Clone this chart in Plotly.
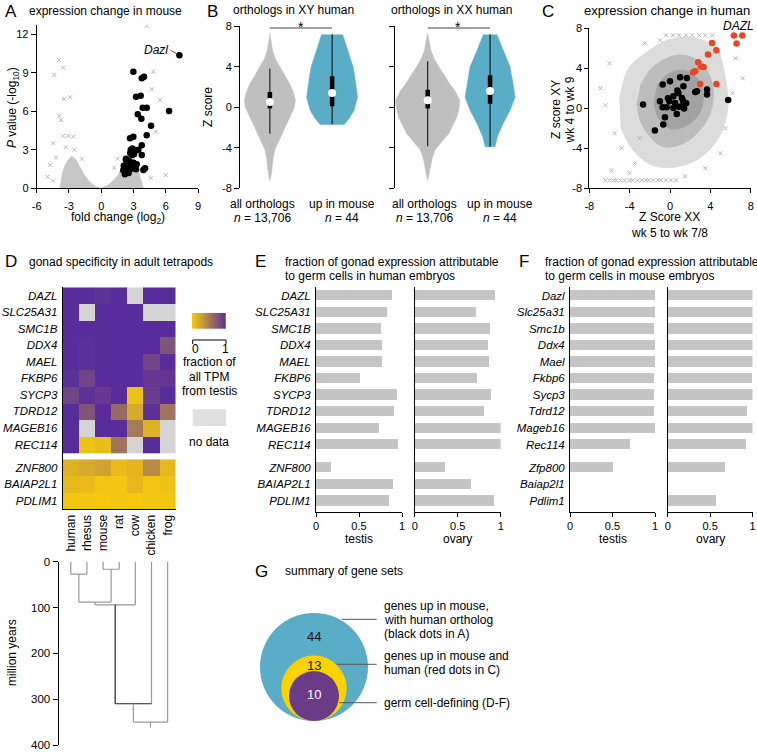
import plotly.graph_objects as go

W, H = 757, 752
FONT = "Liberation Sans, Arial, sans-serif"

def PX(p): return p / W
def PY(p): return 1 - p / H
def DX(a, b): return [a / W, b / W]
def DY(top, bot): return [1 - bot / H, 1 - top / H]

BLUE = "rgb(90,173,199)"
VGRAY = "rgb(191,191,191)"
YELLOW = "rgb(246,201,14)"
PURPLE = "rgb(88,45,155)"
PURPLE_G = "rgb(106,60,136)"
YELLOW_G = "rgb(250,210,0)"
RED = "rgb(236,68,36)"
BAR = "rgb(197,197,197)"
NODATA = "rgb(212,212,212)"

# ---------------- Panel A data ----------------
a_black_fc = [7.27, 2.99, 3.77, 3.98, 3.24, 3.67, 3.86, 4.23, 6.31, 3.40, 3.73, 4.63, 2.99, 2.68, 4.23, 3.77,
              2.75, 2.95, 2.70, 3.05, 3.15, 2.85, 3.77, 2.30, 2.45, 2.60, 2.10, 2.35, 2.65, 2.05, 2.40, 2.70,
              2.20, 2.55, 3.30, 4.07, 3.92, 3.24, 2.30, 2.90, 3.00, 2.55, 2.85, 3.45]
a_black_p = [10.37, 9.09, 8.57, 8.70, 7.14, 7.22, 6.28, 6.28, 6.02, 5.77, 5.42, 4.88, 4.02, 3.90, 4.13, 3.35,
             3.00, 3.05, 2.75, 2.65, 2.90, 2.60, 2.60, 2.20, 1.90, 2.10, 1.75, 1.55, 1.80, 1.40, 1.25, 1.50,
             1.10, 1.65, 1.87, 1.56, 1.43, 1.48, 2.30, 3.10, 2.00, 1.20, 1.55, 3.00]
a_gray_fc = [-3.93, -3.53, -4.36, -3.46, -2.90, -3.90, -3.74, -3.53, -3.06, -2.60, -4.76, -4.46, 4.23, 4.85,
             4.70, 5.47, 5.07, 6.00, -3.30, -2.50, -4.20, -1.80, 1.50, 1.20, 4.30, 4.60, -4.50, -5.00]
a_gray_p = [10.0, 9.4, 8.83, 6.96, 7.09, 5.64, 5.32, 4.08, 4.08, 4.02, 1.82, 3.51, 12.65, 9.09,
            7.72, 6.88, 4.39, 1.04, 3.2, 3.0, 2.4, 2.3, 2.3, 1.6, 1.6, 0.8, 0.6, 0.9]
a_cloudL_fc = [-3.83, -3.74, -3.58, -3.37, -3.06, -2.74, -2.34, -1.97, -1.50, -1.04, -0.58, -0.11]
a_cloudL_p = [0, 0.5, 1.2, 1.75, 2.2, 2.5, 2.2, 1.6, 0.93, 0.47, 0.16, 0]
a_cloudR_fc = [-0.11, 0.51, 1.13, 1.59, 1.90, 2.21, 2.52, 2.99, 3.30, 3.54, 3.77, 3.92]
a_cloudR_p = [0, 0.16, 0.59, 1.04, 1.56, 2.07, 2.46, 2.34, 1.82, 1.04, 0.39, 0]
a_xticks = [-6, -3, 0, 3, 6, 9]
a_yticks = [0, 3, 6, 9, 12]

# ---------------- Panel B data (violin outlines: z, half-width) ----------------
vxy_gray_z = [7.3, 6.6, 5.6, 4.8, 4.0, 3.2, 2.3, 1.5, 0.7, 0.0, -1.0, -1.8, -2.6, -3.4, -4.2, -5.0, -5.9, -6.6, -7.2]
vxy_gray_w = [0, 0.02, 0.043, 0.088, 0.16, 0.24, 0.32, 0.377, 0.41, 0.393, 0.32, 0.257, 0.2, 0.136, 0.08, 0.053, 0.037, 0.024, 0]
vxy_blue_z = [7.2, 6.45, 5.6, 4.8, 4.0, 3.2, 2.3, 1.0, -0.3, -1.1, -1.7]
vxy_blue_w = [0.169, 0.209, 0.257, 0.297, 0.337, 0.361, 0.385, 0.409, 0.353, 0.273, 0.193]
vxx_gray_z = [7.3, 6.6, 5.6, 4.8, 4.0, 3.2, 2.3, 1.5, 0.7, 0.0, -1.0, -1.8, -2.6, -3.4, -4.2, -5.0, -5.9, -6.6, -7.2]
vxx_gray_w = [0, 0.024, 0.053, 0.104, 0.177, 0.265, 0.353, 0.449, 0.514, 0.506, 0.465, 0.401, 0.337, 0.225, 0.12, 0.072, 0.04, 0.024, 0]
vxx_blue_z = [7.2, 5.6, 4.0, 2.3, 1.0, -0.3, -1.6, -2.9, -3.9]
vxx_blue_w = [0.108, 0.209, 0.321, 0.369, 0.401, 0.321, 0.209, 0.117, 0.08]
# box stats: q1, q3, median, whisker low, whisker high
box_xy_gray = [-0.13, 1.51, 0.53, -2.6, 3.82]
box_xy_blue = [0.10, 3.06, 1.41, -1.68, 7.2]
box_xx_gray = [-0.13, 1.74, 0.69, -3.85, 4.54]
box_xx_blue = [0.36, 3.16, 1.61, -3.9, 7.2]
b_yticks = [-8, -4, 0, 4, 8]
sig_level = 7.83

# ---------------- Panel C data ----------------
c_black_x = [5.77, 3.67, 3.67, 2.5, 2.67, 1.0, 1.67, 0.0, -0.73, 1.33, 0.73, 0.83, 0.33, 1.17, 1.33, -1.0, -0.07,
             -2.67, 0.5, 1.33, -0.73, -0.33, 1.4, 0.33, 0.67, -0.5, -0.67, -1.5, 0.9, 1.6, -0.2]
c_black_y = [0.83, 1.87, 1.37, 1.63, 1.7, 3.1, 3.03, 2.7, 2.37, 2.2, 1.77, 1.53, 1.2, 1.03, 0.7, 0.7, 0.7,
             0.37, 0.53, 0.37, 0.1, 0.1, -0.03, 0.03, -0.57, -0.9, -1.63, -2.23, 0.15, 0.5, 1.0]
c_red_x = [6.33, 7.17, 6.6, 4.17, 4.6, 3.77, 2.8, 3.07, 3.33, 2.5, 3.0, 4.6, 2.3]
c_red_y = [7.27, 7.27, 6.47, 6.53, 5.8, 5.37, 4.6, 4.17, 4.13, 3.7, 2.43, 2.43, 3.6]
c_inner_x = [-1.3, -0.2, 1.3, 2.7, 3.3, 2.8, 1.5, 0.0, -1.1, -1.6]
c_inner_y = [2.2, 3.4, 3.8, 3.0, 1.2, -0.7, -1.8, -2.0, -1.0, 0.6]
c_core_x = [-2.96, -1.97, -0.65, 1.0, 2.66, 3.81, 4.3, 3.97, 2.98, 1.33, -0.65, -1.97, -2.96, -3.29]
c_core_y = [2.16, 3.83, 4.83, 5.33, 4.83, 3.5, 1.5, -0.5, -2.17, -3.5, -3.84, -2.84, -1.17, 0.5]
c_halo_x = [-5.0, -4.1, -2.3, 0.01, 2.66, 4.6, 5.4, 5.7, 4.8, 2.9, 0.34, -1.97, -3.8, -4.9]
c_halo_y = [0.83, 4.0, 5.6, 6.9, 7.0, 5.9, 3.5, -0.17, -3.0, -5.0, -5.9, -5.6, -4.0, -1.8]
c_out_x = [-6.4, -5.5, -4.8, -3.5, 5.0, 6.2, -6.0, -2.5, 6.5, -5.8, 3.5, -6.9, -4.0, 5.5, -1.0, 7.2, 1.5, -3.0]
c_out_y = [0.3, -2.5, -4.0, -5.5, -4.5, 1.5, 4.5, 6.5, 5.0, -6.2, -6.0, 2.0, -6.5, -2.0, 6.8, 3.0, -6.8, -3.0]
c_floor_x = [-6.4, -6.0, -5.6, -5.3, -4.9, -4.5, -4.0, -3.7, -3.2, -2.8, -2.4, -2.1, -1.7, -1.2, -0.9, -0.4, 0.1, 0.6]
c_floor_value = -7.2
c_ceil_x = [-0.4, 0.3, 0.9, 1.6, 2.2, 2.9, 3.5, 4.2]
c_ceil_value = 7.3
c_ticks = [-8, -4, 0, 4, 8]

# ---------------- Panel D data ----------------
species = ["human", "rhesus", "mouse", "rat", "cow", "chicken", "frog"]
genes_h = ["DAZL", "SLC25A31", "SMC1B", "DDX4", "MAEL", "FKBP6", "SYCP3", "TDRD12", "MAGEB16", "REC114",
           "ZNF800", "BAIAP2L1", "PDLIM1"]
N = None
testis_frac_germ = [
    [1.00, 1.00, 0.97, 1.00, N, 1.00, 1.00],
    [1.00, N, 1.00, 1.00, 1.00, N, N],
    [1.00, 1.00, 1.00, 1.00, 1.00, 1.00, 1.00],
    [1.00, 0.98, 1.00, 1.00, 1.00, 1.00, 0.75],
    [1.00, 0.98, 1.00, 1.00, 1.00, 0.85, 1.00],
    [0.98, 0.85, 1.00, 1.00, 1.00, 0.92, 0.95],
    [0.85, 0.97, 0.92, 1.00, 0.05, 0.90, 1.00],
    [1.00, 0.75, 1.00, 0.60, 0.20, 0.98, 0.55],
    [1.00, N, 1.00, 1.00, 0.50, 0.15, N],
    [1.00, 0.05, 0.08, 0.55, N, 1.00, N],
]
testis_frac_other = [
    [0.15, 0.20, 0.25, 0.08, 0.12, 0.40, 0.10],
    [0.10, 0.08, 0.02, 0.02, 0.10, 0.02, 0.05],
    [0.02, 0.02, 0.00, 0.02, 0.00, 0.02, 0.02],
]
row_pos = [0, 1, 2, 3, 4, 5, 6, 7, 8, 9, 10.4, 11.4, 12.4]
legend_ramp = [[0, 1]]
# dendrogram merges: (child a, child b, million years); leaves 0..6
tree_merges = [(0, 1, 27), (2, 3, 16.5), (7, 8, 88), (9, 4, 94), (10, 5, 310), (11, 6, 350)]
tree_root = 362
myr_ticks = [0, 100, 200, 300, 400]

# ---------------- Panel E / F data ----------------
genes_m = ["Dazl", "Slc25a31", "Smc1b", "Ddx4", "Mael", "Fkbp6", "Sycp3", "Tdrd12", "Mageb16", "Rec114",
           "Zfp800", "Baiap2l1", "Pdlim1"]
e_testis = [0.88, 0.83, 0.76, 0.77, 0.77, 0.51, 0.94, 0.91, 0.73, 0.95, 0.17, 0.89, 0.85]
e_ovary = [0.93, 0.71, 0.87, 0.85, 0.86, 0.72, 0.88, 0.80, 1.00, 1.00, 0.35, 0.65, 0.92]
f_testis = [1.00, 1.00, 0.99, 1.00, 1.00, 0.99, 0.99, 0.99, 1.00, 0.71, 0.51, None, None]
f_ovary = [1.00, 1.00, 1.00, 1.00, 1.00, 0.99, 1.00, 0.93, 1.00, 0.92, 0.67, None, 0.57]
bar_ticks = [0, 0.5, 1]
bar_ticktext = ["0", "0.5", "1"]

# ---------------- Panel G data ----------------
set_counts = [44, 13, 10]
set_labels = [["genes up in mouse,", "with human ortholog", "(black dots in A)"],
              ["genes up in mouse and", "human (red dots in C)"],
              ["germ cell-defining (D-F)"]]

# =====================================================================
fig = go.Figure()
HS = dict(hoverinfo="skip", showlegend=False)

# ---- A ----
for cx, cy in [(a_cloudL_fc, a_cloudL_p), (a_cloudR_fc, a_cloudR_p)]:
    fig.add_trace(go.Scatter(x=cx, y=cy, mode="lines", fill="toself", fillcolor="rgb(198,198,198)",
                             line=dict(color="rgb(198,198,198)", width=1), xaxis="x", yaxis="y", **HS))
fig.add_trace(go.Scatter(x=a_gray_fc, y=a_gray_p, mode="markers", xaxis="x", yaxis="y",
                         marker=dict(symbol="x-thin", size=4, line=dict(width=1, color="rgb(185,185,185)")), **HS))
fig.add_trace(go.Scatter(x=a_black_fc, y=a_black_p, mode="markers", xaxis="x", yaxis="y",
                         marker=dict(size=6.5, color="black"), **HS))

# ---- B ----
def violin(ax, ay, center, z, w, color):
    xs = [center + v for v in w] + [center - v for v in reversed(w)]
    ys = list(z) + list(reversed(z))
    fig.add_trace(go.Scatter(x=xs, y=ys, mode="lines", fill="toself", fillcolor=color,
                             line=dict(color=color, width=0.5), xaxis=ax, yaxis=ay, **HS))

def boxplot(ax, ay, center, st):
    q1, q3, med, lo, hi = st
    fig.add_trace(go.Scatter(x=[center, center], y=[lo, hi], mode="lines", line=dict(color="black", width=1),
                             xaxis=ax, yaxis=ay, **HS))
    fig.add_trace(go.Scatter(x=[center, center], y=[q1, q3], mode="lines", line=dict(color="black", width=4.5),
                             xaxis=ax, yaxis=ay, **HS))
    fig.add_trace(go.Scatter(x=[center], y=[med], mode="markers", marker=dict(color="white", size=8),
                             xaxis=ax, yaxis=ay, **HS))

violin("x2", "y2", 0, vxy_gray_z, vxy_gray_w, VGRAY)
violin("x2", "y2", 1, vxy_blue_z, vxy_blue_w, BLUE)
violin("x3", "y3", 0, vxx_gray_z, vxx_gray_w, VGRAY)
violin("x3", "y3", 1, vxx_blue_z, vxx_blue_w, BLUE)
boxplot("x2", "y2", 0, box_xy_gray)
boxplot("x2", "y2", 1, box_xy_blue)
boxplot("x3", "y3", 0, box_xx_gray)
boxplot("x3", "y3", 1, box_xx_blue)
for ax, ay in [("x2", "y2"), ("x3", "y3")]:
    fig.add_trace(go.Scatter(x=[0, 1], y=[sig_level, sig_level], mode="lines", line=dict(color="#444", width=1),
                             xaxis=ax, yaxis=ay, **HS))

# ---- C ----
for px_, py_, col in [(c_halo_x, c_halo_y, "rgb(220,220,220)"), (c_core_x, c_core_y, "rgb(188,188,188)"),
                      (c_inner_x, c_inner_y, "rgb(162,162,162)")]:
    fig.add_trace(go.Scatter(x=px_, y=py_, mode="lines", fill="toself", fillcolor=col, line_shape="spline",
                             line=dict(color=col, width=1), xaxis="x4", yaxis="y4", **HS))
xmark = dict(symbol="x-thin", size=4, line=dict(width=1, color="rgb(180,180,180)"))
fig.add_trace(go.Scatter(x=c_out_x, y=c_out_y, mode="markers", marker=xmark, xaxis="x4", yaxis="y4", **HS))
fig.add_trace(go.Scatter(x=c_floor_x, y=[c_floor_value] * len(c_floor_x), mode="markers", marker=xmark,
                         xaxis="x4", yaxis="y4", **HS))
fig.add_trace(go.Scatter(x=c_ceil_x, y=[c_ceil_value] * len(c_ceil_x), mode="markers", marker=xmark,
                         xaxis="x4", yaxis="y4", **HS))
fig.add_trace(go.Scatter(x=c_black_x, y=c_black_y, mode="markers", marker=dict(size=6.5, color="black"),
                         xaxis="x4", yaxis="y4", **HS))
fig.add_trace(go.Scatter(x=c_red_x, y=c_red_y, mode="markers", marker=dict(size=6.5, color=RED),
                         xaxis="x4", yaxis="y4", **HS))

# ---- D heatmap ----
cscale = [[0, YELLOW], [1, PURPLE]]
def mask(block):
    return [[1 if v is None else None for v in row] for row in block]

fig.add_trace(go.Heatmap(z=testis_frac_germ, x=list(range(7)), y=row_pos[:10], colorscale=cscale, zmin=0, zmax=1,
                         xaxis="x5", yaxis="y5", hoverinfo="skip", showscale=False))
fig.add_trace(go.Heatmap(z=mask(testis_frac_germ), x=list(range(7)), y=row_pos[:10],
                         colorscale=[[0, NODATA], [1, NODATA]], showscale=False, xaxis="x5", yaxis="y5",
                         hoverinfo="skip"))
fig.add_trace(go.Heatmap(z=testis_frac_other, x=list(range(7)), y=row_pos[10:], colorscale=cscale, zmin=0, zmax=1,
                         xaxis="x5", yaxis="y5", hoverinfo="skip", showscale=False))
# legend gradient (colour key)
fig.add_trace(go.Heatmap(z=legend_ramp, x=[0, 1], y=[0], colorscale=cscale, zmin=0, zmax=1, zsmooth="best",
                         xaxis="x12", yaxis="y12", hoverinfo="skip", showscale=False))

# ---- dendrogram ----
node_x = {i: float(i) for i in range(7)}
node_h = {i: 0.0 for i in range(7)}
dark_edges = {10}
nid = 7
for a, b, h in tree_merges:
    for c in (a, b):
        col = "#222" if c in dark_edges else "#999"
        fig.add_trace(go.Scatter(x=[node_x[c], node_x[c]], y=[node_h[c], h], mode="lines",
                                 line=dict(color=col, width=1.2), xaxis="x6", yaxis="y6", **HS))
    hcol = "#222" if (a in dark_edges or b in dark_edges) else "#999"
    fig.add_trace(go.Scatter(x=[node_x[a], node_x[b]], y=[h, h], mode="lines",
                             line=dict(color=hcol, width=1.2), xaxis="x6", yaxis="y6", **HS))
    node_x[nid] = (node_x[a] + node_x[b]) / 2
    node_h[nid] = h
    nid += 1
root = nid - 1
fig.add_trace(go.Scatter(x=[node_x[root], node_x[root]], y=[node_h[root], tree_root], mode="lines",
                         line=dict(color="#999", width=1.2), xaxis="x6", yaxis="y6", **HS))

# ---- E / F bars ----
for vals, ax, ay in [(e_testis, "x7", "y7"), (e_ovary, "x8", "y8"), (f_testis, "x9", "y9"), (f_ovary, "x10", "y10")]:
    fig.add_trace(go.Bar(x=vals, y=row_pos, orientation="h", marker=dict(color=BAR, line=dict(width=0)),
                         width=0.62, xaxis=ax, yaxis=ay, hoverinfo="skip", showlegend=False))

# ---- G circles ----
G_cx, G_bottom = 314, 721
G_radius = [54, 32.7, 25]
G_colors = [BLUE, YELLOW_G, PURPLE_G]
shapes = []
for r, colr in zip(G_radius, G_colors):
    shapes.append(dict(type="circle", xref="x11", yref="y11", x0=G_cx - r, x1=G_cx + r,
                       y0=-G_bottom, y1=-(G_bottom - 2 * r), fillcolor=colr, line=dict(width=0)))

# ---------------- layout ----------------
base = dict(showgrid=False, zeroline=False, color="black", tickcolor="black", linecolor="black",
            automargin=False, tickfont=dict(size=11, family=FONT, color="black"))

def ax(**kw):
    d = dict(base)
    d.update(kw)
    return d

def hyph(vals):
    return [str(v) for v in vals]

layout = dict(
    width=W, height=H, margin=dict(l=0, r=0, t=0, b=0, pad=0, autoexpand=False),
    paper_bgcolor="white", plot_bgcolor="white",
    font=dict(family=FONT, size=12, color="black"), bargap=0,
    # A
    xaxis=ax(domain=DX(36.7, 198), range=[-6, 9], anchor="y", tickvals=a_xticks, ticktext=hyph(a_xticks),
             showline=True, ticks="outside", ticklen=4, ticklabelstandoff=3),
    yaxis=ax(domain=DY(25.3, 188.3), range=[0, 12.7], anchor="x", tickvals=a_yticks, ticks="outside", ticklen=5),
    # B
    xaxis2=ax(domain=DX(240, 362), range=[-0.48, 1.48], anchor="y2", visible=False),
    yaxis2=ax(domain=DY(26.3, 188.3), range=[-8, 8], anchor="x2", tickvals=b_yticks, ticktext=hyph(b_yticks),
              ticks="outside", ticklen=5),
    xaxis3=ax(domain=DX(395, 520), range=[-0.525, 1.48], anchor="y3", visible=False),
    yaxis3=ax(domain=DY(26.3, 188.3), range=[-8, 8], anchor="x3", tickvals=b_yticks, showticklabels=False,
              ticks="outside", ticklen=5),
    # C
    xaxis4=ax(domain=DX(589.3, 750.7), range=[-8, 8], anchor="y4", tickvals=c_ticks, ticktext=hyph(c_ticks),
              showline=True, ticks="outside", ticklen=4, ticklabelstandoff=3),
    yaxis4=ax(domain=DY(28.3, 188.3), range=[-8, 8], anchor="x4", tickvals=c_ticks, ticktext=hyph(c_ticks),
              ticks="outside", ticklen=4),
    # D heatmap
    xaxis5=ax(domain=DX(62.7, 175.7), range=[-0.5, 6.5], anchor="y5", tickvals=list(range(7)), ticktext=species,
              tickangle=-90, ticks="", tickfont=dict(size=12, family=FONT, color="black")),
    yaxis5=ax(domain=DY(287.3, 509.1), range=[12.9, -0.5], anchor="x5", tickvals=row_pos,
              ticktext=["<i>%s</i>" % g for g in genes_h], ticks="", ticklabelstandoff=2,
              tickfont=dict(size=11.5, family=FONT, color="black")),
    # dendrogram
    xaxis6=ax(domain=DX(62.7, 175.7), range=[-0.5, 6.5], anchor="y6", visible=False),
    yaxis6=ax(domain=DY(561.7, 745), range=[400, 0], anchor="free", position=PX(57.5), tickvals=myr_ticks,
              ticks="outside", ticklen=5, tickfont=dict(size=11.5, family=FONT, color="black")),
    # E
    xaxis7=ax(domain=DX(316, 402), range=[0, 1], anchor="y7", tickvals=bar_ticks, ticktext=bar_ticktext,
              showline=True, ticks="outside", ticklen=4),
    yaxis7=ax(domain=DY(287.3, 512), range=[13.08, -0.5], anchor="x7", tickvals=row_pos,
              ticktext=["<i>%s</i>" % g for g in genes_h], ticks="", ticklabelstandoff=2,
              tickfont=dict(size=11.5, family=FONT, color="black")),
    xaxis8=ax(domain=DX(414.7, 500.7), range=[0, 1], anchor="y8", tickvals=bar_ticks, ticktext=bar_ticktext,
              showline=True, ticks="outside", ticklen=4),
    yaxis8=ax(domain=DY(287.3, 512), range=[13.08, -0.5], anchor="x8", showticklabels=False, ticks=""),
    # F
    xaxis9=ax(domain=DX(570, 655), range=[0, 1], anchor="y9", tickvals=bar_ticks, ticktext=bar_ticktext,
              showline=True, ticks="outside", ticklen=4),
    yaxis9=ax(domain=DY(287.3, 512), range=[13.08, -0.5], anchor="x9", tickvals=row_pos,
              ticktext=["<i>%s</i>" % g for g in genes_m], ticks="", ticklabelstandoff=2,
              tickfont=dict(size=11.5, family=FONT, color="black")),
    xaxis10=ax(domain=DX(667.7, 752.5), range=[0, 1], anchor="y10", tickvals=bar_ticks, ticktext=bar_ticktext,
               showline=True, ticks="outside", ticklen=4),
    yaxis10=ax(domain=DY(287.3, 512), range=[13.08, -0.5], anchor="x10", showticklabels=False, ticks=""),
    # G
    xaxis11=ax(domain=DX(240, 520), range=[240, 520], anchor="y11", visible=False),
    yaxis11=ax(domain=DY(590, 752), range=[-752, -590], anchor="x11", visible=False),
    # colour key
    xaxis12=ax(domain=DX(191.7, 226), range=[0, 1], anchor="y12", visible=False),
    yaxis12=ax(domain=DY(312.7, 329), range=[-0.5, 0.5], anchor="x12", visible=False),
)

def A(text, x, y, size=12, xanchor="center", yanchor="middle", color="black", angle=0):
    return dict(text=text, x=PX(x), y=PY(y), xref="paper", yref="paper", showarrow=False, xanchor=xanchor,
                yanchor=yanchor, textangle=angle, font=dict(size=size, family=FONT, color=color))

ann = []
# panel letters
for letter, x, y in [("A", 3, 11), ("B", 205, 11), ("C", 540, 11), ("D", 3, 262), ("E", 253, 262),
                     ("F", 517, 262), ("G", 253, 571)]:
    ann.append(A(letter, x, y, size=17, xanchor="left"))
# A
ann.append(A("expression change in mouse", 27, 11, xanchor="left"))
ann.append(A("fold change (log<sub>2</sub>)", 118, 218))
ann.append(A("<i>P</i> value (-log<sub>10</sub>)", 13, 108, angle=-90))
ann.append(dict(text="<i>Dazl</i>", x=a_black_fc[0], y=a_black_p[0], xref="x", yref="y", showarrow=True,
                ax=-9, ay=-5, arrowhead=0, arrowwidth=0.8, arrowcolor="#333", standoff=3,
                font=dict(size=12, family=FONT, color="black"), xanchor="right", yanchor="middle"))
# B
ann.append(A("orthologs in XY human", 293, 10))
ann.append(A("orthologs in XX human", 451, 10))
ann.append(A("*", 301, 27, size=14))
ann.append(A("*", 458, 27, size=14))
ann.append(A("Z score", 208, 107, angle=-90))
for x, l1, l2 in [(262, "all orthologs", "<i>n</i> = 13,706"), (342, "up in mouse", "<i>n</i> = 44"),
                  (424, "all orthologs", "<i>n</i> = 13,706"), (500, "up in mouse", "<i>n</i> = 44")]:
    ann.append(A(l1, x, 204))
    ann.append(A(l2, x, 217.5))
# C
ann.append(A("expression change in human", 667, 10, size=13))
ann.append(A("Z score XY", 556, 110, angle=-90))
ann.append(A("wk 4 to wk 9", 569.5, 110, angle=-90))
ann.append(A("Z Score XX", 669.3, 217))
ann.append(A("wk 5 to wk 7/8", 669.3, 232.5))
ann.append(dict(text="<i>DAZL</i>", x=c_red_x[0], y=c_red_y[0], xref="x4", yref="y4", showarrow=False,
                xshift=5, yshift=10, font=dict(size=12, family=FONT, color="black")))
# D
ann.append(A("gonad specificity in adult tetrapods", 27, 262, xanchor="left"))
ann.append(A("0", 195, 349, size=12))
ann.append(A("1", 225, 349, size=12))
for t, y in [("fraction of", 361.7), ("all TPM", 376.5), ("from testis", 391)]:
    ann.append(A(t, 209, y))
ann.append(A("no data", 209, 441.7))
ann.append(A("million years", 12, 653, angle=-90))
# E / F
for x0, lines in [(283, ["fraction of gonad expression attributable", "to germ cells in human embryos"]),
                  (543, ["fraction of gonad expression attributable", "to germ cells in mouse embryos"])]:
    ann.append(A(lines[0], x0, 261.7, xanchor="left"))
    ann.append(A(lines[1], x0, 275.5, xanchor="left"))
for x, t in [(359, "testis"), (457.7, "ovary"), (612.5, "testis"), (710.3, "ovary")]:
    ann.append(A(t, x, 539))
# G
ann.append(A("summary of gene sets", 283, 571, xanchor="left"))
G_num_y = [636, 665, 694.3]
G_num_col = ["#111", "#111", "white"]
for n, y, c in zip(set_counts, G_num_y, G_num_col):
    ann.append(A(str(n), G_cx, y, size=13, color=c))
G_line_y = [619.3, 664.3, 702.7]
G_line_x0 = [341.7, 336.7, 339.3]
G_text_y0 = [605.7, 655.7, 702.7]
for lines, ly, lx0, ty in zip(set_labels, G_line_y, G_line_x0, G_text_y0):
    shapes.append(dict(type="line", xref="paper", yref="paper", x0=PX(lx0), x1=PX(376.7), y0=PY(ly), y1=PY(ly),
                       line=dict(color="#555", width=1)))
    for k, t in enumerate(lines):
        ann.append(A(t, 381.7, ty + 14.3 * k, xanchor="left"))

# legend bracket & no-data box
for (x0, y0, x1, y1) in [(192.7, 340, 226, 340), (192.7, 340, 192.7, 344), (226, 340, 226, 344)]:
    shapes.append(dict(type="line", xref="paper", yref="paper", x0=PX(x0), x1=PX(x1), y0=PY(y0), y1=PY(y1),
                       line=dict(color="black", width=1)))
shapes.append(dict(type="rect", xref="paper", yref="paper", x0=PX(192.7), x1=PX(226), y0=PY(426), y1=PY(409.3),
                   fillcolor="rgb(224,224,224)", line=dict(width=0)))

layout["annotations"] = ann
layout["shapes"] = shapes
fig.update_layout(**layout)
fig.write_html("out.html", config={"displayModeBar": False},
               post_script="document.body.style.margin='0px';document.body.style.overflow='hidden';")
